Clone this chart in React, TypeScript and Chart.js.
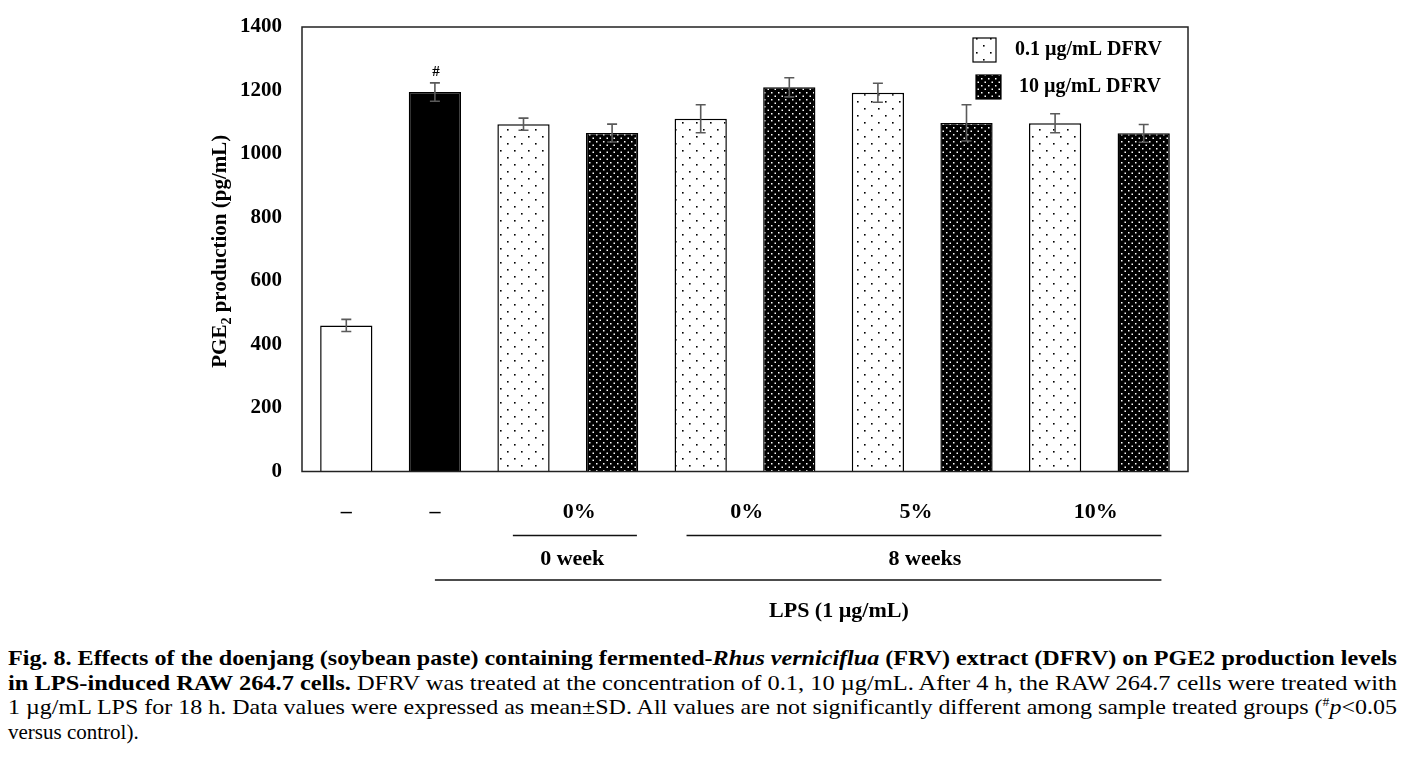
import React, { useEffect, useRef } from 'react';
import { Chart, registerables } from 'chart.js';

Chart.register(...registerables);

// ---------- data ----------
const categories = [
  'Control',
  'LPS',
  '0 week 0% / 0.1',
  '0 week 0% / 10',
  '8 weeks 0% / 0.1',
  '8 weeks 0% / 10',
  '8 weeks 5% / 0.1',
  '8 weeks 5% / 10',
  '8 weeks 10% / 0.1',
  '8 weeks 10% / 10',
];
const pgeMeans = [460, 1195, 1094, 1066, 1111, 1210, 1193, 1098, 1097, 1065];
const pgeSD = [19, 29, 19, 28, 44, 30, 30, 57, 30, 28];
const barKinds = ['plain', 'solid', 'light', 'dark', 'light', 'dark', 'light', 'dark', 'light', 'dark'];
const significance = ['', '#', '', '', '', '', '', '', '', ''];

const yMin = 0;
const yMax = 1400;
const yStep = 200;

const legendLabels = ['0.1 µg/mL DFRV', '10 µg/mL DFRV'];
const legendKinds = ['light', 'dark'];

const sampleLabels = ['–', '–', '0%', '0%', '5%', '10%'];
const sampleLabelAt = [0, 1, 2.63, 4.52, 6.43, 8.46];
const periodLabels = ['0 week', '8 weeks'];
const periodLabelAt = [2.55, 6.53];
const periodSpans = [
  [1.88, 3.28],
  [3.84, 9.2],
];
const lpsLabel = 'LPS (1 µg/mL)';
const lpsSpan = [1.0, 9.2];
const lpsLabelAt = 5.56;
const yTitleMain = 'PGE';
const yTitleSub = '2';
const yTitleRest = ' production (pg/mL)';

const SERIF = '"Liberation Serif", "Times New Roman", serif';

function makePattern(bg: string, fg: string, w: number, h: number, dots: number[][]) {
  const c = document.createElement('canvas');
  c.width = w;
  c.height = h;
  const g = c.getContext('2d')!;
  g.fillStyle = bg;
  g.fillRect(0, 0, w, h);
  g.fillStyle = fg;
  dots.forEach(([x, y, s]) => g.fillRect(x, y, s, s));
  return g.createPattern(c, 'repeat')!;
}

export default function App() {
  const canvasRef = useRef<HTMLCanvasElement | null>(null);
  const lineRefs = useRef<(HTMLSpanElement | null)[]>([]);

  useEffect(() => {
    const canvas = canvasRef.current!;
    const lightPat = makePattern('#ffffff', '#000000', 14, 14, [
      [3, 3, 1.6],
      [10, 10, 1.6],
    ]);
    const darkPat = makePattern('#000000', '#ffffff', 7, 7, [
      [1, 1, 1.5],
      [4.5, 4.5, 1.5],
    ]);
    const fillFor = (k: string) =>
      k === 'plain' ? '#ffffff' : k === 'solid' ? '#000000' : k === 'light' ? lightPat : darkPat;

    const overlay = {
      id: 'overlay',
      afterDatasetsDraw(chart: any) {
        const ctx = chart.ctx;
        const x = chart.scales.x;
        const y = chart.scales.y;
        const ca = chart.chartArea;
        ctx.save();
        // error bars
        ctx.strokeStyle = '#5a5a5a';
        ctx.lineWidth = 1.6;
        pgeMeans.forEach((m, i) => {
          const px = x.getPixelForValue(i);
          const top = y.getPixelForValue(m + pgeSD[i]);
          const bot = y.getPixelForValue(m - pgeSD[i]);
          ctx.beginPath();
          ctx.moveTo(px, top);
          ctx.lineTo(px, bot);
          ctx.moveTo(px - 5, top);
          ctx.lineTo(px + 5, top);
          ctx.moveTo(px - 5, bot);
          ctx.lineTo(px + 5, bot);
          ctx.stroke();
          if (significance[i]) {
            ctx.fillStyle = '#000';
            ctx.font = `bold 15px ${SERIF}`;
            ctx.textAlign = 'center';
            ctx.textBaseline = 'middle';
            ctx.fillText(significance[i], px + 1, top - 11);
          }
        });
        // frame
        ctx.strokeStyle = '#222';
        ctx.lineWidth = 1.5;
        ctx.strokeRect(ca.left, ca.top, ca.right - ca.left, ca.bottom - ca.top);
        ctx.restore();
      },
      afterDraw(chart: any) {
        const ctx = chart.ctx;
        const x = chart.scales.x;
        const ca = chart.chartArea;
        ctx.save();
        ctx.fillStyle = '#000';
        // legend
        legendLabels.forEach((lab, i) => {
          const bx = ca.right - 215 + i * 3;
          const by = ca.top + 11 + i * 37;
          const bw = 23 + i * 2;
          const bh = 24;
          ctx.fillStyle = fillFor(legendKinds[i]);
          ctx.fillRect(bx, by, bw, bh);
          ctx.strokeStyle = '#000';
          ctx.lineWidth = 1.2;
          ctx.strokeRect(bx, by, bw, bh);
          ctx.fillStyle = '#000';
          ctx.font = `bold 20px ${SERIF}`;
          ctx.textAlign = 'left';
          ctx.textBaseline = 'middle';
          ctx.fillText(lab, ca.right - 173 + i * 4, by + 12);
        });
        // category annotations below the axis
        ctx.textAlign = 'center';
        ctx.textBaseline = 'middle';
        ctx.font = `bold 22px ${SERIF}`;
        sampleLabels.forEach((lab, i) => {
          ctx.fillText(lab, x.getPixelForValue(sampleLabelAt[i]), ca.bottom + 41);
        });
        ctx.strokeStyle = '#111';
        ctx.lineWidth = 1.5;
        periodSpans.forEach(([a, b]) => {
          ctx.beginPath();
          ctx.moveTo(x.getPixelForValue(a), ca.bottom + 64);
          ctx.lineTo(x.getPixelForValue(b), ca.bottom + 64);
          ctx.stroke();
        });
        periodLabels.forEach((lab, i) => {
          ctx.fillText(lab, x.getPixelForValue(periodLabelAt[i]), ca.bottom + 88);
        });
        ctx.beginPath();
        ctx.moveTo(x.getPixelForValue(lpsSpan[0]), ca.bottom + 108.5);
        ctx.lineTo(x.getPixelForValue(lpsSpan[1]), ca.bottom + 108.5);
        ctx.stroke();
        ctx.fillText(lpsLabel, x.getPixelForValue(lpsLabelAt), ca.bottom + 140);

        // y axis title with subscript
        const cx = 221;
        const cy = (ca.top + ca.bottom) / 2 + 2;
        ctx.translate(cx, cy);
        ctx.rotate(-Math.PI / 2);
        const fMain = `bold 21px ${SERIF}`;
        const fSub = `bold 14px ${SERIF}`;
        ctx.font = fMain;
        const w1 = ctx.measureText(yTitleMain).width;
        const w3 = ctx.measureText(yTitleRest).width;
        ctx.font = fSub;
        const w2 = ctx.measureText(yTitleSub).width;
        const total = w1 + w2 + w3;
        let sx = -total / 2;
        ctx.textAlign = 'left';
        ctx.textBaseline = 'middle';
        ctx.font = fMain;
        ctx.fillText(yTitleMain, sx, 0);
        sx += w1;
        ctx.font = fSub;
        ctx.fillText(yTitleSub, sx, 6);
        sx += w2;
        ctx.font = fMain;
        ctx.fillText(yTitleRest, sx, 0);
        ctx.restore();
      },
    };

    const chart = new Chart(canvas, {
      type: 'bar',
      data: {
        labels: categories,
        datasets: [
          {
            label: 'PGE2 production',
            data: pgeMeans,
            backgroundColor: barKinds.map(fillFor) as any,
            borderColor: '#000',
            borderWidth: 1.5,
            barPercentage: 0.59,
            categoryPercentage: 1,
          },
        ],
      },
      options: {
        animation: false,
        responsive: false,
        maintainAspectRatio: false,
        layout: { padding: { left: 0, top: 27, right: 217, bottom: 168.5 } },
        plugins: {
          legend: { display: false },
          tooltip: { enabled: false },
          title: { display: false },
        },
        scales: {
          x: {
            display: false,
            offset: true,
          },
          y: {
            min: yMin,
            max: yMax,
            grid: { display: false, drawTicks: false },
            border: { display: false },
            ticks: {
              stepSize: yStep,
              padding: 20,
              color: '#000',
              font: { family: SERIF, size: 21, weight: 'bold' },
              callback: (v: any) => String(v),
            },
            afterFit(scale: any) {
              scale.width = 302;
              scale.paddingTop = 0;
              scale.paddingBottom = 0;
            },
          },
        },
      },
      plugins: [overlay],
    });

    // fit caption lines to the text block width
    const target = 1389;
    let lastScale = 1;
    lineRefs.current.forEach((el, i) => {
      if (!el) return;
      el.style.transform = 'none';
      const w = el.getBoundingClientRect().width;
      if (i < 3) {
        lastScale = target / w;
        el.style.transform = `scaleX(${lastScale})`;
      } else {
        el.style.transform = `scaleX(${Math.min(lastScale, 1)})`;
      }
    });

    return () => chart.destroy();
  }, []);

  const lineStyle: React.CSSProperties = {
    display: 'inline-block',
    whiteSpace: 'nowrap',
    transformOrigin: 'left center',
  };
  const setRef = (i: number) => (el: HTMLSpanElement | null) => {
    lineRefs.current[i] = el;
  };

  return (
    <div
      style={{
        position: 'absolute',
        left: 0,
        top: 0,
        width: 1405,
        height: 768,
        background: '#fff',
        overflow: 'hidden',
      }}
    >
      <canvas ref={canvasRef} width={1405} height={640} style={{ position: 'absolute', left: 0, top: 0 }} />
      <div
        style={{
          position: 'absolute',
          left: 8,
          top: 646,
          width: 1389,
          fontFamily: SERIF,
          fontSize: 21,
          lineHeight: '24.5px',
          color: '#000',
        }}
      >
        <div>
          <span ref={setRef(0)} style={{ ...lineStyle, fontWeight: 'bold' }}>
            Fig. 8. Effects of the doenjang (soybean paste) containing fermented-<i>Rhus verniciflua</i> (FRV) extract
            (DFRV) on PGE2 production levels
          </span>
        </div>
        <div>
          <span ref={setRef(1)} style={lineStyle}>
            <b>in LPS-induced RAW 264.7 cells.</b> DFRV was treated at the concentration of 0.1, 10 µg/mL. After 4 h,
            the RAW 264.7 cells were treated with
          </span>
        </div>
        <div>
          <span ref={setRef(2)} style={lineStyle}>
            1 µg/mL LPS for 18 h. Data values were expressed as mean±SD. All values are not significantly different
            among sample treated groups (<sup style={{ fontSize: 12, lineHeight: 0 }}>#</sup>
            <i>p</i>&lt;0.05
          </span>
        </div>
        <div>
          <span ref={setRef(3)} style={lineStyle}>
            versus control).
          </span>
        </div>
      </div>
    </div>
  );
}
